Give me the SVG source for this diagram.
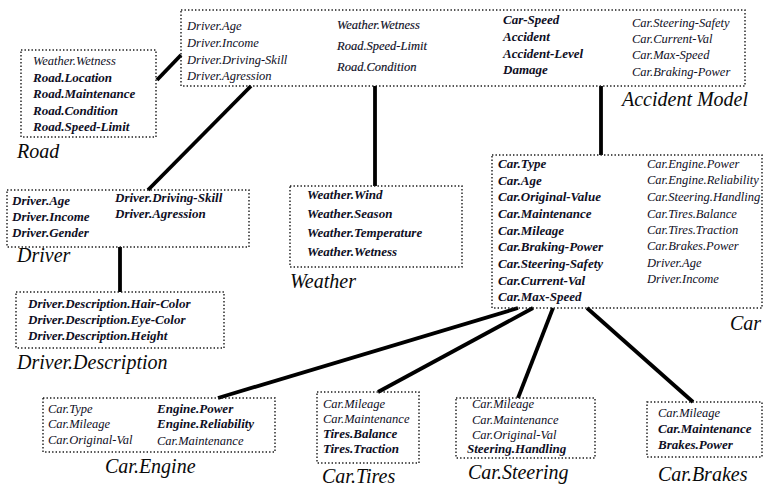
<svg xmlns="http://www.w3.org/2000/svg" width="764" height="487" viewBox="0 0 764 487">
  <style>
    .box { fill: none; stroke: #1a1a1a; stroke-width: 1.4; stroke-dasharray: 1.4 2.1; }
    .t { font-family: "Liberation Serif", "Times New Roman", serif; font-style: italic; font-size: 12.5px; fill: #0e0e24; }
    .b { font-weight: bold; font-size: 13px; }
    .m { stroke: #0e0e24; stroke-width: 0.15; }
    .title { font-family: "Liberation Serif", "Times New Roman", serif; font-style: italic; font-size: 20px; fill: #0a0a0a; }
    .edge { stroke: #000; stroke-width: 3.8; stroke-linecap: butt; fill: none; }
  </style>
  <rect width="764" height="487" fill="#fff"/>

  <!-- connectors between the variable groups -->
  <g id="connectors">
    <line class="edge" x1="157" y1="80" x2="181" y2="55"/>
    <line class="edge" x1="148" y1="190" x2="251" y2="86"/>
    <line class="edge" x1="120" y1="247" x2="120" y2="292"/>
    <line class="edge" x1="375" y1="86" x2="375" y2="186"/>
    <line class="edge" x1="601" y1="86" x2="601" y2="155"/>
    <line class="edge" x1="518" y1="308" x2="218" y2="398"/>
    <line class="edge" x1="533" y1="308" x2="378" y2="392"/>
    <line class="edge" x1="553" y1="308" x2="518" y2="398"/>
    <line class="edge" x1="587" y1="308" x2="693" y2="402"/>
  </g>

  <g id="accident-model">
    <rect class="box" x="181" y="10" width="564" height="76"/>
    <text class="t" x="187" y="30">Driver.Age</text>
    <text class="t" x="187" y="47">Driver.Income</text>
    <text class="t" x="187" y="64">Driver.Driving-Skill</text>
    <text class="t" x="187" y="80">Driver.Agression</text>
    <text class="t m" x="337" y="29">Weather.Wetness</text>
    <text class="t m" x="337" y="50">Road.Speed-Limit</text>
    <text class="t m" x="337" y="71">Road.Condition</text>
    <text class="t b" x="503" y="24">Car-Speed</text>
    <text class="t b" x="503" y="41">Accident</text>
    <text class="t b" x="503" y="58">Accident-Level</text>
    <text class="t b" x="503" y="74">Damage</text>
    <text class="t" x="632" y="27">Car.Steering-Safety</text>
    <text class="t" x="632" y="43">Car.Current-Val</text>
    <text class="t" x="632" y="59">Car.Max-Speed</text>
    <text class="t" x="632" y="76">Car.Braking-Power</text>
    <text class="title" x="622" y="106">Accident Model</text>
  </g>

  <g id="road">
    <rect class="box" x="21" y="50" width="135" height="87"/>
    <text class="t" x="33" y="65">Weather.Wetness</text>
    <text class="t b" x="33" y="82">Road.Location</text>
    <text class="t b" x="33" y="98">Road.Maintenance</text>
    <text class="t b" x="33" y="115">Road.Condition</text>
    <text class="t b" x="33" y="131">Road.Speed-Limit</text>
    <text class="title" x="17" y="158">Road</text>
  </g>

  <g id="driver">
    <rect class="box" x="7" y="190" width="242" height="57"/>
    <text class="t b" x="12" y="205">Driver.Age</text>
    <text class="t b" x="12" y="221">Driver.Income</text>
    <text class="t b" x="12" y="237">Driver.Gender</text>
    <text class="t b" x="115" y="202">Driver.Driving-Skill</text>
    <text class="t b" x="115" y="218">Driver.Agression</text>
    <text class="title" x="17" y="262">Driver</text>
  </g>

  <g id="driver-description">
    <rect class="box" x="16" y="292" width="208" height="56"/>
    <text class="t b" x="28" y="308">Driver.Description.Hair-Color</text>
    <text class="t b" x="28" y="324">Driver.Description.Eye-Color</text>
    <text class="t b" x="28" y="340">Driver.Description.Height</text>
    <text class="title" x="17" y="369">Driver.Description</text>
  </g>

  <g id="weather">
    <rect class="box" x="290" y="186" width="172" height="81"/>
    <text class="t b" x="307" y="199">Weather.Wind</text>
    <text class="t b" x="307" y="218">Weather.Season</text>
    <text class="t b" x="307" y="237">Weather.Temperature</text>
    <text class="t b" x="307" y="256">Weather.Wetness</text>
    <text class="title" x="290" y="288">Weather</text>
  </g>

  <g id="car">
    <rect class="box" x="492" y="155" width="270" height="153"/>
    <text class="t b" x="498" y="168">Car.Type</text>
    <text class="t b" x="498" y="185">Car.Age</text>
    <text class="t b" x="498" y="201">Car.Original-Value</text>
    <text class="t b" x="498" y="218">Car.Maintenance</text>
    <text class="t b" x="498" y="235">Car.Mileage</text>
    <text class="t b" x="498" y="251">Car.Braking-Power</text>
    <text class="t b" x="498" y="268">Car.Steering-Safety</text>
    <text class="t b" x="498" y="285">Car.Current-Val</text>
    <text class="t b" x="498" y="301">Car.Max-Speed</text>
    <text class="t" x="647" y="168">Car.Engine.Power</text>
    <text class="t" x="647" y="184">Car.Engine.Reliability</text>
    <text class="t" x="647" y="201">Car.Steering.Handling</text>
    <text class="t" x="647" y="218">Car.Tires.Balance</text>
    <text class="t" x="647" y="234">Car.Tires.Traction</text>
    <text class="t" x="647" y="250">Car.Brakes.Power</text>
    <text class="t" x="647" y="267">Driver.Age</text>
    <text class="t" x="647" y="283">Driver.Income</text>
    <text class="title" x="730" y="330">Car</text>
  </g>

  <g id="car-engine">
    <rect class="box" x="43" y="398" width="232" height="54"/>
    <text class="t" x="48" y="413">Car.Type</text>
    <text class="t" x="48" y="428">Car.Mileage</text>
    <text class="t" x="48" y="444">Car.Original-Val</text>
    <text class="t b" x="157" y="413">Engine.Power</text>
    <text class="t b" x="157" y="428">Engine.Reliability</text>
    <text class="t" x="157" y="445">Car.Maintenance</text>
    <text class="title" x="105" y="473">Car.Engine</text>
  </g>

  <g id="car-tires">
    <rect class="box" x="317" y="392" width="102" height="71"/>
    <text class="t" x="323" y="408">Car.Mileage</text>
    <text class="t" x="323" y="423">Car.Maintenance</text>
    <text class="t b" x="323" y="438">Tires.Balance</text>
    <text class="t b" x="323" y="453">Tires.Traction</text>
    <text class="title" x="322" y="483">Car.Tires</text>
  </g>

  <g id="car-steering">
    <rect class="box" x="456" y="398" width="139" height="60"/>
    <text class="t" x="472" y="408">Car.Mileage</text>
    <text class="t" x="472" y="424">Car.Maintenance</text>
    <text class="t" x="472" y="439">Car.Original-Val</text>
    <text class="t b" x="467" y="453">Steering.Handling</text>
    <text class="title" x="468" y="479">Car.Steering</text>
  </g>

  <g id="car-brakes">
    <rect class="box" x="647" y="402" width="115" height="55"/>
    <text class="t" x="658" y="417">Car.Mileage</text>
    <text class="t b" x="658" y="433">Car.Maintenance</text>
    <text class="t b" x="658" y="449">Brakes.Power</text>
    <text class="title" x="658" y="481">Car.Brakes</text>
  </g>
</svg>
